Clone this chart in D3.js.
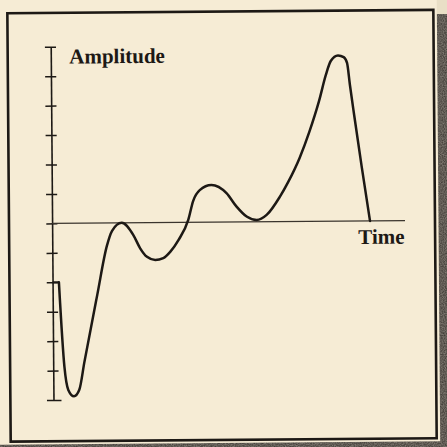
<!DOCTYPE html>
<html>
<head>
<meta charset="utf-8">
<script src="https://cdn.jsdelivr.net/npm/d3@7/dist/d3.min.js"></script>
<style>
  html, body { margin: 0; padding: 0; background: #3b3631; }
  svg { display: block; }
</style>
</head>
<body>
<svg id="chart" width="447" height="447"></svg>
<script>
// Waveform samples: time (arbitrary units) and amplitude
const timeValues = [0.18, 0.317, 0.422, 0.584, 0.734, 0.884, 1.264, 1.547, 1.698, 1.973,
                    2.300, 2.490, 2.681, 2.916, 3.143, 3.340, 3.576, 3.859, 4.001, 4.191,
                    4.523, 4.948, 5.231, 5.514, 5.798, 6.081, 6.458, 6.693, 7.025, 7.309,
                    7.592, 7.790, 7.932, 8.138, 8.300, 8.393, 8.470, 8.583, 8.782, 9.009];
const ampValues  = [-2.0, -4.87, -5.66, -5.88, -5.66, -4.72, -2.44, -0.78, -0.27, 0.0,
                    -0.42, -0.87, -1.16, -1.27, -1.21, -1.0, -0.60, 0.08, 0.72, 1.09,
                    1.26, 0.98, 0.52, 0.18, 0.06, 0.23, 0.84, 1.33, 2.15, 3.04,
                    4.09, 4.97, 5.44, 5.63, 5.57, 5.37, 4.62, 3.60, 1.87, 0.0];
const ampTicks = [-6, -5, -4, -3, -2, -1, 0, 1, 2, 3, 4, 5, 6];
const timeDomain = [0, 10];
const axisLabels = { y: "Amplitude", x: "Time" };

const ink = "#1d1915";
const paper = "#f6ecd5";

const svg = d3.select("#chart");

// grain for the dark backing behind the page
const defs = svg.append("defs");
const grain = defs.append("filter").attr("id", "grain")
  .attr("x", 0).attr("y", 0).attr("width", "100%").attr("height", "100%");
grain.append("feTurbulence").attr("type", "fractalNoise")
  .attr("baseFrequency", 0.9).attr("numOctaves", 2).attr("seed", 3).attr("result", "n");
grain.append("feColorMatrix").attr("in", "n").attr("type", "matrix")
  .attr("values", "0 0 0 0 0.33  0 0 0 0 0.30  0 0 0 0 0.26  0 0 0 -1.1 1.1");
svg.append("rect").attr("width", 447).attr("height", 447)
  .attr("fill", "#34302b");
svg.append("rect").attr("width", 447).attr("height", 447)
  .attr("filter", "url(#grain)").attr("opacity", 0.8);

// strip of lighter page at the top right corner
svg.append("rect").attr("x", 430).attr("y", 0).attr("width", 17).attr("height", 14)
  .attr("fill", "#e9dfc6");

// the printed page, slightly skewed on the scanner bed
const page = svg.append("g").attr("transform", "rotate(-0.45 223 223)");

page.append("rect")
  .attr("x", -30).attr("y", -30).attr("width", 468.5).attr("height", 473)
  .attr("fill", paper);

// frame
page.append("rect")
  .attr("x", 9).attr("y", 11.5).attr("width", 426).attr("height", 428.5)
  .attr("fill", "none").attr("stroke", ink).attr("stroke-width", 2.6);

const x = d3.scaleLinear().domain(timeDomain).range([52.1, 405]);
const y = d3.scaleLinear().domain([-6, 6]).range([398.7, 45.4]);

// amplitude axis with ticks crossing the line
const yAxis = page.append("g")
  .attr("transform", `translate(${x(0)},0)`)
  .call(d3.axisLeft(y).tickValues(ampTicks).tickSize(5.8).tickSizeOuter(0).tickFormat(""));
yAxis.select(".domain").attr("stroke", ink).attr("stroke-width", 1.6);
yAxis.selectAll(".tick line")
  .attr("stroke", ink).attr("stroke-width", 1.5)
  .attr("x1", 5.3);
yAxis.selectAll(".tick").filter(d => d === -6).select("line")
  .attr("x2", -6.5).attr("x1", 8);

// time axis along zero amplitude
page.append("line")
  .attr("x1", x(timeDomain[0])).attr("x2", x(timeDomain[1]))
  .attr("y1", y(0)).attr("y2", y(0))
  .attr("stroke", "#3a342d").attr("stroke-width", 1.3);

// waveform: short lead-in from the axis at -2, then the signal
const pts = timeValues.map((t, i) => [t, ampValues[i]]);
page.append("line")
  .attr("x1", x(0)).attr("x2", x(timeValues[0]))
  .attr("y1", y(ampValues[0])).attr("y2", y(ampValues[0]))
  .attr("stroke", ink).attr("stroke-width", 2);

const line = d3.line()
  .x(d => x(d[0])).y(d => y(d[1]))
  .curve(d3.curveMonotoneX);

page.append("path")
  .datum(pts)
  .attr("d", line)
  .attr("fill", "none")
  .attr("stroke", ink)
  .attr("stroke-width", 2.5)
  .attr("stroke-linejoin", "round")
  .attr("stroke-linecap", "round");

// axis titles
page.append("text")
  .attr("x", 70.5).attr("y", 62.3)
  .attr("font-family", "'Liberation Serif', 'Times New Roman', serif")
  .attr("font-weight", "bold").attr("font-size", 21)
  .attr("fill", ink)
  .text(axisLabels.y);

page.append("text")
  .attr("x", 358.2).attr("y", 245)
  .attr("font-family", "'Liberation Serif', 'Times New Roman', serif")
  .attr("font-weight", "bold").attr("font-size", 21)
  .attr("fill", ink)
  .text(axisLabels.x);
</script>
</body>
</html>
